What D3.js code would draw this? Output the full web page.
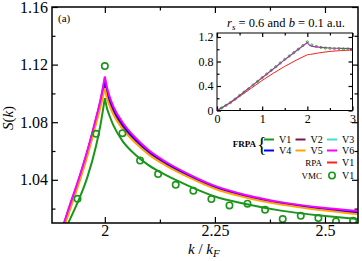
<!DOCTYPE html>
<html>
<head>
<meta charset="utf-8">
<script src="https://cdn.jsdelivr.net/npm/d3@7"></script>
<style>
  body { margin: 0; background: #fff; }
  svg { display: block; font-family: "Liberation Serif", "Times New Roman", serif; }
</style>
</head>
<body>
<svg id="chart" width="362" height="261"></svg>
<script>
// main panel data : S(k) near the 2kF cusp
const kGrid = [1.88, 1.90, 1.92, 1.94, 1.96, 1.98, 1.99, 2.0, 2.005, 2.01, 2.02, 2.04, 2.07, 2.10, 2.14, 2.19, 2.25, 2.32, 2.40, 2.49, 2.58];
const cuspIndex = 7;
const sV1 = [0.986, 0.999, 1.012, 1.0255, 1.0415, 1.0635, 1.078, 1.0967, 1.0895, 1.0850, 1.0775, 1.0670, 1.0572, 1.0500, 1.0430, 1.0358, 1.0284, 1.0232, 1.0186, 1.0152, 1.0127];
const sV2 = [0.985, 1.0015, 1.0197, 1.0378, 1.0576, 1.0804, 1.0922, 1.1065, 1.0992, 1.0944, 1.0870, 1.0771, 1.0667, 1.0586, 1.0506, 1.0425, 1.0344, 1.0283, 1.0233, 1.0196, 1.0168];
const sV3 = [0.9865, 1.003, 1.0215, 1.0395, 1.0595, 1.0824, 1.0948, 1.1105, 1.1030, 1.0977, 1.0898, 1.0794, 1.0685, 1.0601, 1.0519, 1.0437, 1.0355, 1.0292, 1.0242, 1.0205, 1.0179];
const sV4 = [0.986, 1.0025, 1.021, 1.039, 1.059, 1.0818, 1.0940, 1.1094, 1.1020, 1.0968, 1.0890, 1.0787, 1.0680, 1.0597, 1.0515, 1.0433, 1.0351, 1.0289, 1.0239, 1.0202, 1.0175];
const sV5 = [0.984, 1.0005, 1.0185, 1.0365, 1.0562, 1.0790, 1.0905, 1.1036, 1.0965, 1.0920, 1.0850, 1.0755, 1.0655, 1.0575, 1.0497, 1.0418, 1.0338, 1.0277, 1.0228, 1.0190, 1.0160];
const sV6 = [0.987, 1.0035, 1.022, 1.040, 1.060, 1.083, 1.0955, 1.1117, 1.1040, 1.0985, 1.0905, 1.0800, 1.0690, 1.0605, 1.0522, 1.0440, 1.0358, 1.0295, 1.0245, 1.0208, 1.0182];

const vmcK = [1.938, 1.980, 2.0, 2.040, 2.080, 2.121, 2.161, 2.201, 2.242, 2.283, 2.324, 2.364, 2.404, 2.445, 2.485, 2.525, 2.564];
const vmcS = [1.0268, 1.0719, 1.119, 1.0724, 1.0534, 1.0440, 1.0365, 1.0324, 1.0266, 1.0222, 1.0234, 1.0192, 1.0127, 1.0150, 1.0134, 1.0111, 1.0116];

// inset data : full range 0..3
const insetK = [0, 0.25, 0.5, 0.75, 1.0, 1.25, 1.5, 1.75, 2.0, 2.05, 2.1, 2.25, 2.5, 2.75, 3.0];
const insetCusp = 8;
const insetFrpa = [0, 0.11, 0.245, 0.39, 0.535, 0.68, 0.83, 0.97, 1.11, 1.065, 1.05, 1.035, 1.02, 1.015, 1.012];
const insetRpa = [0, 0.105, 0.23, 0.36, 0.49, 0.61, 0.72, 0.82, 0.91, 0.915, 0.92, 0.94, 0.965, 0.978, 0.988];
const insetVmcK = [0.1, 0.2, 0.3, 0.4, 0.5, 0.6, 0.7, 0.8, 0.9, 1.0, 1.1, 1.2, 1.3, 1.4, 1.5, 1.6, 1.7, 1.8, 1.9, 2.0, 2.1, 2.2, 2.3, 2.4, 2.5, 2.6, 2.7, 2.8, 2.9, 3.0];
const insetVmcS = [0.04, 0.085, 0.13, 0.185, 0.245, 0.3, 0.355, 0.415, 0.475, 0.535, 0.595, 0.655, 0.715, 0.775, 0.835, 0.89, 0.945, 1.0, 1.06, 1.12, 1.07, 1.045, 1.03, 1.02, 1.015, 1.01, 1.01, 1.005, 1.005, 1.0];

// ticks
const xMajor = [2, 2.25, 2.5];
const xMinor = [2.125, 2.375];
const yMajor = [1.04, 1.08, 1.12, 1.16];
const yMinor = [1.02, 1.06, 1.10, 1.14];
const insetXMajor = [0, 1, 2, 3];
const insetXMinor = [0.5, 1.5, 2.5];
const insetYMajor = [0, 0.4, 0.8, 1.2];
const insetYMinor = [0.2, 0.6, 1.0];

const series = [
  { name: "V1", color: "#1a961a", s: sV1 },
  { name: "V2", color: "#7a1450", s: sV2 },
  { name: "V3", color: "#40e0d0", s: sV3 },
  { name: "V4", color: "#0000ff", s: sV4 },
  { name: "V5", color: "#ffa500", s: sV5 },
  { name: "V6", color: "#ff00ff", s: sV6 }
];

const FONT = "Liberation Serif, Times New Roman, serif";
const svg = d3.select("#chart");
const L = 52, R = 358, T = 7, B = 223;
const x = d3.scaleLinear().domain([1.88, 2.575]).range([L, R]);
const y = d3.scaleLinear().domain([1.01, 1.16]).range([B, T]);

svg.append("clipPath").attr("id", "clipMain")
  .append("rect").attr("x", L).attr("y", T).attr("width", R - L).attr("height", B - T);

// axes with inward ticks (bottom / left labelled, top / right mirrored)
function addAxes(g, xs, ys, xMaj, xMin, yMaj, yMin, l, r, t, b, big, small, fs, padX, padY, fmtX, fmtY) {
  g.append("g").attr("transform", `translate(0,${b})`)
    .call(d3.axisBottom(xs).tickValues(xMaj).tickSize(-big).tickPadding(padX).tickFormat(fmtX));
  g.append("g").attr("transform", `translate(0,${b})`)
    .call(d3.axisBottom(xs).tickValues(xMin).tickSize(-small).tickFormat(""));
  g.append("g").attr("transform", `translate(0,${t})`)
    .call(d3.axisTop(xs).tickValues(xMaj).tickSize(-big).tickFormat(""));
  g.append("g").attr("transform", `translate(0,${t})`)
    .call(d3.axisTop(xs).tickValues(xMin).tickSize(-small).tickFormat(""));
  g.append("g").attr("transform", `translate(${l},0)`)
    .call(d3.axisLeft(ys).tickValues(yMaj).tickSize(-big).tickPadding(padY).tickFormat(fmtY));
  g.append("g").attr("transform", `translate(${l},0)`)
    .call(d3.axisLeft(ys).tickValues(yMin).tickSize(-small).tickFormat(""));
  g.append("g").attr("transform", `translate(${r},0)`)
    .call(d3.axisRight(ys).tickValues(yMaj).tickSize(-big).tickFormat(""));
  g.append("g").attr("transform", `translate(${r},0)`)
    .call(d3.axisRight(ys).tickValues(yMin).tickSize(-small).tickFormat(""));
  g.selectAll(".domain").remove();
  g.selectAll("g").attr("font-family", FONT);
  g.selectAll(".tick line").attr("stroke", "#000").attr("stroke-width", 1.2);
  g.selectAll(".tick text").attr("font-size", fs).attr("fill", "#000");
}

const main = svg.append("g");
addAxes(main, x, y, xMajor, xMinor, yMajor, yMinor, L, R, T, B, 6, 3.5, "16px", 2, 4,
  d => String(d), d => d.toFixed(2));

const line = d3.line().x(d => x(d[0])).y(d => y(d[1])).curve(d3.curveMonotoneX);
const curves = main.append("g").attr("clip-path", "url(#clipMain)");
series.forEach(sr => {
  const pts = kGrid.map((k, i) => [k, sr.s[i]]);
  [pts.slice(0, cuspIndex + 1), pts.slice(cuspIndex)].forEach(part => {
    curves.append("path").attr("d", line(part))
      .attr("fill", "none").attr("stroke", sr.color).attr("stroke-width", 2);
  });
});

curves.selectAll(".vmc")
  .data(vmcK.map((k, i) => [k, vmcS[i]]))
  .join("circle")
  .attr("class", "vmc")
  .attr("cx", d => x(d[0]))
  .attr("cy", d => y(d[1]))
  .attr("r", 3.2)
  .attr("fill", "none")
  .attr("stroke", "#1a961a")
  .attr("stroke-width", 1.6);

main.append("rect").attr("x", L).attr("y", T).attr("width", R - L).attr("height", B - T)
  .attr("fill", "none").attr("stroke", "#000").attr("stroke-width", 1.5);

main.append("text").attr("x", 58).attr("y", 22).attr("font-size", "11px").text("(a)");

// axis titles
const yl = svg.append("text")
  .attr("transform", "translate(13,118) rotate(-90)")
  .attr("text-anchor", "middle").attr("font-size", "15px");
yl.append("tspan").attr("font-style", "italic").text("S");
yl.append("tspan").text("(");
yl.append("tspan").attr("font-style", "italic").text("k");
yl.append("tspan").text(")");

const xl = svg.append("text").attr("x", 188).attr("y", 253.5).attr("font-size", "15px");
xl.append("tspan").attr("font-style", "italic").text("k");
xl.append("tspan").text(" / ");
xl.append("tspan").attr("font-style", "italic").text("k");
xl.append("tspan").attr("font-size", "11px").attr("font-style", "italic").attr("dy", 3.5).text("F");

// inset
const iL = 217, iR = 352.5, iT = 33, iB = 110.5;
const ix = d3.scaleLinear().domain([0, 3]).range([iL, iR]);
const iy = d3.scaleLinear().domain([0, 1.265]).range([iB, iT]);
svg.append("clipPath").attr("id", "clipInset")
  .append("rect").attr("x", iL).attr("y", iT).attr("width", iR - iL).attr("height", iB - iT);

const inset = svg.append("g");
inset.append("rect").attr("x", iL).attr("y", iT).attr("width", iR - iL).attr("height", iB - iT).attr("fill", "#fff");
addAxes(inset, ix, iy, insetXMajor, insetXMinor, insetYMajor, insetYMinor, iL, iR, iT, iB, 4, 2.5, "12px", 3.5, 3.5,
  d => String(d), d => (d === 0 ? "0" : d.toFixed(1)));

const iline = d3.line().x(d => ix(d[0])).y(d => iy(d[1]));
const ic = inset.append("g").attr("clip-path", "url(#clipInset)");
const rpaPts = insetK.map((k, i) => [k, insetRpa[i]]);
ic.append("path").attr("d", iline.curve(d3.curveMonotoneX)(rpaPts.slice(0, insetCusp + 1)) + iline(rpaPts.slice(insetCusp)).replace("M", "L"))
  .attr("fill", "none").attr("stroke", "#ff2020").attr("stroke-width", 1);
const frpaPts = insetK.map((k, i) => [k, insetFrpa[i]]);
ic.append("path").attr("d", iline(frpaPts.slice(0, insetCusp + 1)) + iline(frpaPts.slice(insetCusp)).replace("M", "L"))
  .attr("fill", "none").attr("stroke", "#c020c0").attr("stroke-width", 1.2);
ic.selectAll(".ivmc")
  .data(insetVmcK.map((k, i) => [k, insetVmcS[i]]))
  .join("circle")
  .attr("class", "ivmc")
  .attr("cx", d => ix(d[0])).attr("cy", d => iy(d[1]))
  .attr("r", 1.1).attr("fill", "none").attr("stroke", "#1a961a").attr("stroke-width", 0.8);
inset.append("rect").attr("x", iL).attr("y", iT).attr("width", iR - iL).attr("height", iB - iT)
  .attr("fill", "none").attr("stroke", "#000").attr("stroke-width", 1);

const it = svg.append("text").attr("x", 227).attr("y", 27).attr("font-size", "12.5px");
it.append("tspan").attr("font-style", "italic").text("r");
it.append("tspan").attr("font-size", "9px").attr("font-style", "italic").attr("dy", 3).text("s");
it.append("tspan").attr("dy", -3).text(" = 0.6 and ");
it.append("tspan").attr("font-style", "italic").text("b");
it.append("tspan").text(" = 0.1 a.u.");

// legend
const legend = svg.append("g").attr("font-size", "10px");
const colX = [264, 295.5, 327];
const rowY = [139.5, 150.5];
series.forEach((sr, i) => {
  const cx = colX[i % 3], cy = rowY[Math.floor(i / 3)];
  legend.append("line").attr("x1", cx).attr("x2", cx + 10).attr("y1", cy).attr("y2", cy)
    .attr("stroke", sr.color).attr("stroke-width", 2);
  legend.append("text").attr("x", cx + 15).attr("y", cy + 3.5).text(sr.name);
});
legend.append("text").attr("x", 256).attr("y", 146.5).attr("text-anchor", "end")
  .attr("font-size", "9px").attr("font-weight", "bold").text("FRPA");
legend.append("text").attr("x", 257).attr("y", 151).attr("font-size", "20px").attr("font-weight", "300").text("{");
legend.append("text").attr("x", 322).attr("y", 166).attr("text-anchor", "end").attr("font-size", "9px").text("RPA");
legend.append("line").attr("x1", 327).attr("x2", 337).attr("y1", 162.5).attr("y2", 162.5)
  .attr("stroke", "#ff2020").attr("stroke-width", 2);
legend.append("text").attr("x", 342).attr("y", 166).text("V1");
legend.append("text").attr("x", 322).attr("y", 179).attr("text-anchor", "end").attr("font-size", "9px").text("VMC");
legend.append("circle").attr("cx", 332).attr("cy", 175.5).attr("r", 3.2)
  .attr("fill", "none").attr("stroke", "#1a961a").attr("stroke-width", 1.6);
legend.append("text").attr("x", 342).attr("y", 179).text("V1");
</script>
</body>
</html>
